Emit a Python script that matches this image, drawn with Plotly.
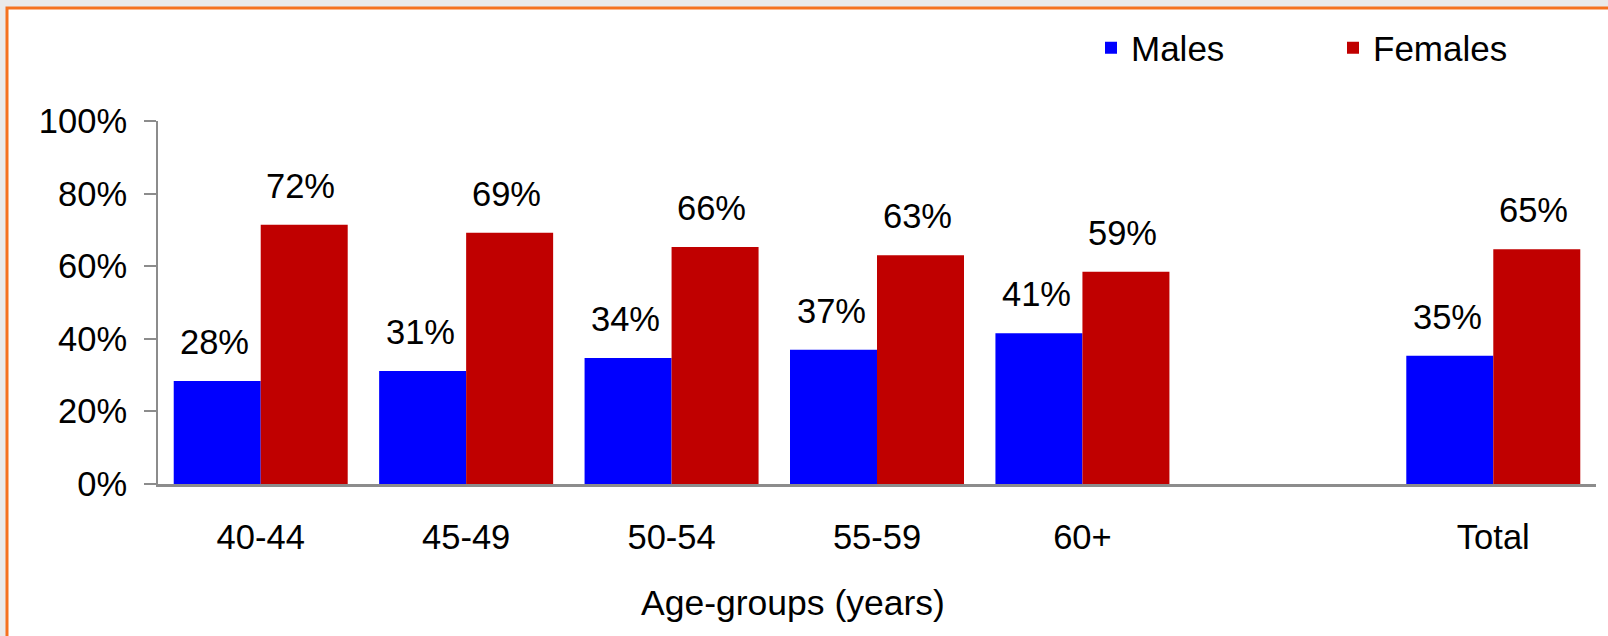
import plotly.graph_objects as go

categories = ["40-44", "45-49", "50-54", "55-59", "60+", " ", "Total"]
males = [28.4, 31.1, 34.7, 37.0, 41.5, None, 35.3]
females = [71.4, 69.2, 65.3, 63.0, 58.5, None, 64.7]
male_labels = ["28%", "31%", "34%", "37%", "41%", "", "35%"]
female_labels = ["72%", "69%", "66%", "63%", "59%", "", "65%"]
y_ticks = [0, 20, 40, 60, 80, 100]
y_tick_labels = ["0%", "20%", "40%", "60%", "80%", "100%"]
x_title = "Age-groups (years)"

FONT = "Liberation Sans, Arial, sans-serif"
W, H = 1608, 636
L, R, T, B = 158, 12, 121, 152
pw, ph = W - L - R, H - T - B

def px_x(p):
    return (p - L) / pw

def px_y(p):
    return (H - B - p) / ph

fig = go.Figure()
fig.add_trace(go.Bar(x=categories, y=males, name="Males", marker_color="#0000FF",
                     marker_line_width=0))
fig.add_trace(go.Bar(x=categories, y=females, name="Females", marker_color="#C00000",
                     marker_line_width=0))

annotations = []
for c, v, t in zip(categories, males, male_labels):
    if v is not None:
        annotations.append(dict(x=c, y=v, text=t, showarrow=False, xshift=-46, yshift=39,
                                yanchor="middle", font=dict(size=34.5, color="black", family=FONT)))
for c, v, t in zip(categories, females, female_labels):
    if v is not None:
        annotations.append(dict(x=c, y=v, text=t, showarrow=False, xshift=40, yshift=39,
                                yanchor="middle", font=dict(size=34.5, color="black", family=FONT)))
annotations.append(dict(xref="paper", yref="paper", x=px_x(793), y=px_y(603), text=x_title,
                        showarrow=False, xanchor="center", yanchor="middle",
                        font=dict(size=35.5, color="black", family=FONT)))

shapes = [dict(type="rect", xref="paper", yref="paper",
               x0=px_x(7), x1=px_x(1640), y0=px_y(8), y1=px_y(680),
               line=dict(color="#F5721F", width=3), fillcolor="white", layer="below")]

fig.update_layout(
    width=W, height=H,
    margin=dict(l=L, r=R, t=T, b=B),
    paper_bgcolor="#EAEAEA",
    plot_bgcolor="white",
    barmode="group", bargap=0.153, bargroupgap=0,
    font=dict(family=FONT, size=34.5, color="black"),
    showlegend=True,
    legend=dict(orientation="h", x=px_x(1091), xanchor="left", y=px_y(48), yanchor="middle",
                font=dict(size=35, color="black", family=FONT), entrywidth=197,
                bgcolor="rgba(0,0,0,0)"),
    annotations=annotations,
    shapes=shapes,
)
fig.update_xaxes(
    showline=True, linecolor="#8C8C8C", linewidth=3, ticks="", showgrid=False,
    ticklabelstandoff=21, tickfont=dict(size=34.5, family=FONT, color="black"),
)
fig.update_yaxes(
    range=[0, 100], tickvals=y_ticks, ticktext=y_tick_labels, showline=True, linecolor="#8C8C8C",
    linewidth=2, ticks="outside", ticklen=12, tickwidth=2, tickcolor="#8C8C8C",
    showgrid=False, zeroline=False, ticklabelstandoff=10,
    tickfont=dict(size=34.5, family=FONT, color="black"),
)

fig.write_html("out.html", config={"displayModeBar": False},
               post_script="document.body.style.margin='0';document.body.style.overflow='hidden';")
